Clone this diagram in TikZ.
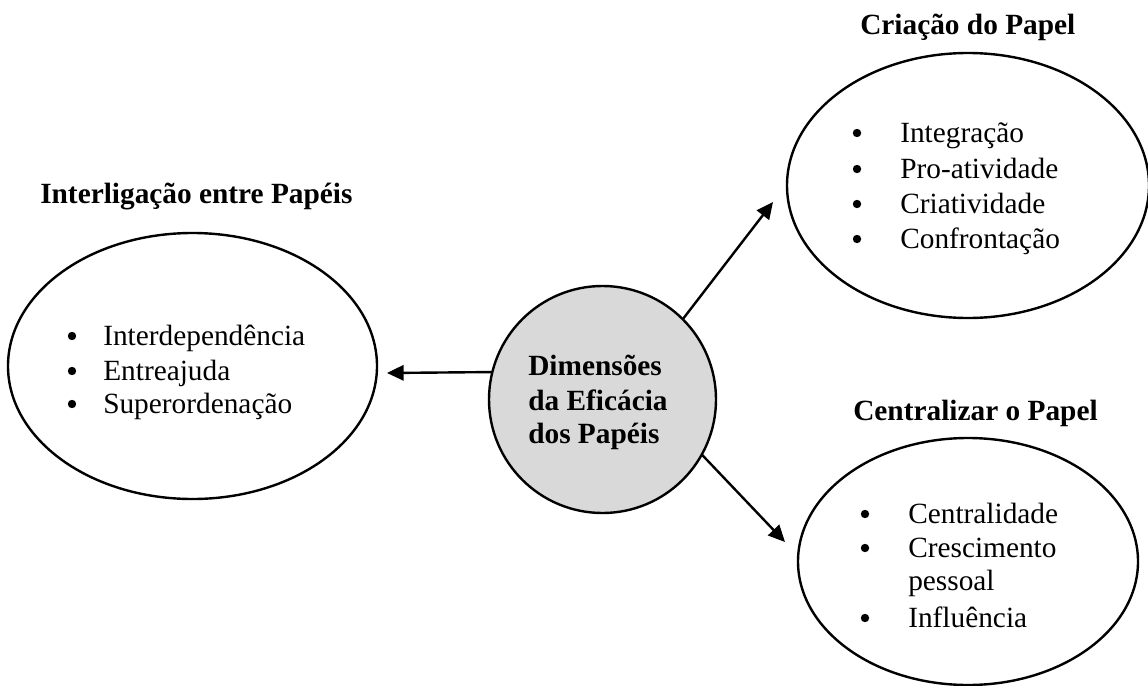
\documentclass[tikz,border=0pt]{standalone}
\usepackage{fontspec}
\setmainfont{Liberation Serif}
\usetikzlibrary{shapes.geometric,arrows.meta}

\begin{document}
\begin{tikzpicture}[x=0.75pt,y=-0.75pt,
  oval/.style={ellipse,draw=black,line width=1.8pt,inner sep=0pt,outer sep=0pt},
  hub/.style={circle,draw=black,line width=1.8pt,inner sep=0pt,outer sep=0pt,
    fill={rgb,255:red,217;green,217;blue,217}},
  heading/.style={anchor=base west,inner sep=0pt,font=\fontsize{22}{26}\selectfont\bfseries},
  item/.style={anchor=base west,inner sep=0pt,font=\fontsize{22}{26}\selectfont},
  dot/.style={circle,fill=black,inner sep=0pt,minimum size=6.3pt},
  arr/.style={line width=1.8pt,-{Triangle[length=12.5pt,width=11.5pt]}}]

\useasboundingbox (0,0) rectangle (1148,685);
\begin{scope}
\clip (0,0) rectangle (1148,685);

% ellipses and the central circle
\node[oval,minimum width=369*0.75pt,minimum height=266*0.75pt] (L) at (192.5,366) {};
\node[oval,minimum width=362*0.75pt,minimum height=265*0.75pt] (T) at (968,185.5) {};
\node[oval,minimum width=340*0.75pt,minimum height=247*0.75pt] (B) at (968,561.5) {};
\node[hub,minimum size=227*0.75pt] (C) at (602.5,399.5) {};
\end{scope}

% headings
\node[heading] (hL) at (40,203) {Interligação entre Papéis};
\node[heading] (hT) at (860,35) {Criação do Papel};
\node[heading] (hB) at (853,420) {Centralizar o Papel};

% centre text
\node[heading] (c1) at (528,375) {Dimensões};
\node[heading] (c2) at (528,410) {da Eficácia};
\node[heading] (c3) at (528,443) {dos Papéis};

% left list
\node[dot] (dL1) at (72,336) {};
\node[dot] (dL2) at (72,371) {};
\node[dot] (dL3) at (72,404) {};
\node[item] (iL1) at (103,345) {Interdependência};
\node[item] (iL2) at (103,380) {Entreajuda};
\node[item] (iL3) at (103,413) {Superordenação};

% top-right list
\node[dot] (dT1) at (857,133) {};
\node[dot] (dT2) at (857,169) {};
\node[dot] (dT3) at (857,204) {};
\node[dot] (dT4) at (857,239) {};
\node[item] (iT1) at (900,142) {Integração};
\node[item] (iT2) at (900,178) {Pro-atividade};
\node[item] (iT3) at (900,213) {Criatividade};
\node[item] (iT4) at (900,248) {Confrontação};

% bottom-right list
\node[dot] (dB1) at (865,514) {};
\node[dot] (dB2) at (865,548) {};
\node[dot] (dB4) at (865,618) {};
\node[item] (iB1) at (908,523) {Centralidade};
\node[item] (iB2) at (908,557) {Crescimento};
\node[item] (iB3) at (908,590) {pessoal};
\node[item] (iB4) at (908,627) {Influência};

% arrow ends
\coordinate (tipL) at (387,373);
\coordinate (tipT) at (773,202);
\coordinate (tipB) at (785,542);

\draw[arr] (C.166.7) -- (tipL);
\draw[arr] (C.45) -- (tipT);
\draw[arr] (C.-29) -- (tipB);
\end{tikzpicture}
\end{document}
